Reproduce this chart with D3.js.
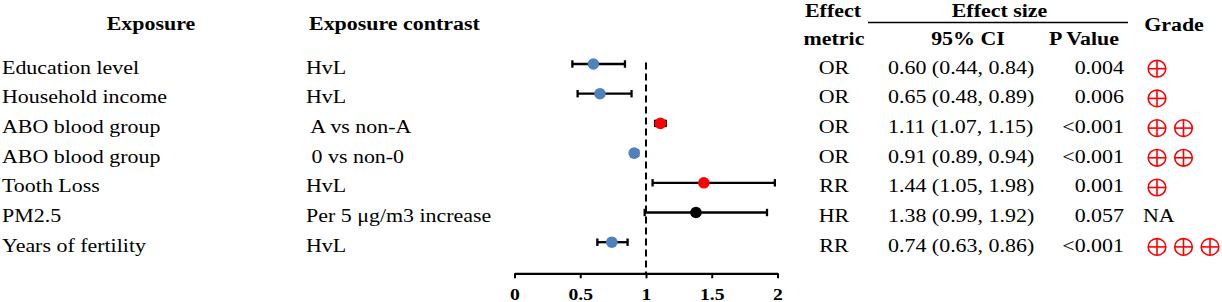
<!DOCTYPE html>
<html>
<head>
<meta charset="utf-8">
<script src="https://cdn.jsdelivr.net/npm/d3@7"></script>
<style>
  html, body { margin: 0; padding: 0; background: #fff; }
  svg { display: block; }
  text { font-family: "Liberation Serif", "Times New Roman", serif; fill: #000; white-space: pre; }
</style>
</head>
<body>
<svg id="chart" width="1222" height="302"></svg>
<script>
// ---- Data ----
const exposures = ["Education level", "Household income", "ABO blood group", "ABO blood group", "Tooth Loss", "PM2.5", "Years of fertility"];
const contrasts = ["HvL", "HvL", " A vs non-A", " 0 vs non-0", "HvL", "Per 5 \u03bcg/m3 increase", "HvL"];
const metrics = ["OR", "OR", "OR", "OR", "RR", "HR", "RR"];
const estimates = [0.60, 0.65, 1.11, 0.91, 1.44, 1.38, 0.74];
const lowerCI = [0.44, 0.48, 1.07, 0.89, 1.05, 0.99, 0.63];
const upperCI = [0.84, 0.89, 1.15, 0.94, 1.98, 1.92, 0.86];
const pValues = ["0.004", "0.006", "<0.001", "<0.001", "0.001", "0.057", "<0.001"];
const grades = [1, 1, 2, 2, 1, null, 3];
const pointGroups = ["lower", "lower", "higher", "lower", "higher", "ns", "lower"];
const axisTicks = [0, 0.5, 1, 1.5, 2];

// ---- Styles ----
const colorMap = { lower: "#4F81BD", higher: "#FF0000", ns: "#000000" };
const SX = 1.125;   // horizontal stretch of text in the reference
const FS = 19.5;

const svg = d3.select("#chart");
const rowIdx = d3.range(exposures.length);

const x = d3.scaleLinear().domain([0, 2]).range([514.5, 777.5]);
const y = d3.scalePoint().domain(rowIdx).range([64, 242.2]);
const baseline = i => y(i) + 9.5;

function txt(str, tx, ty, opts = {}) {
  return svg.append("text")
    .attr("transform", `translate(${tx},${ty}) scale(${SX},1)`)
    .attr("text-anchor", opts.anchor || "start")
    .style("font-size", (opts.size || FS) + "px")
    .style("font-weight", opts.bold ? "bold" : "normal")
    .text(str);
}

// ---- Headers ----
txt("Exposure", 151, 30, { anchor: "middle", bold: true });
txt("Exposure contrast", 309, 30, { bold: true });
txt("Effect", 833, 16.7, { anchor: "middle", bold: true });
txt("metric", 834, 45, { anchor: "middle", bold: true });
txt("Effect size", 999.5, 16.7, { anchor: "middle", bold: true });
svg.append("line").attr("x1", 868).attr("x2", 1128).attr("y1", 22.5).attr("y2", 22.5)
  .attr("stroke", "#000").attr("stroke-width", 1.5);
txt("95% CI", 968, 45, { anchor: "middle", bold: true });
txt("P Value", 1084, 45, { anchor: "middle", bold: true });
txt("Grade", 1174, 30.5, { anchor: "middle", bold: true });

// ---- Table columns ----
rowIdx.forEach(i => {
  txt(exposures[i], 2, baseline(i));
  txt(contrasts[i], 306, baseline(i));
  txt(metrics[i], 834, baseline(i), { anchor: "middle" });
  const ci = `${estimates[i].toFixed(2)} (${lowerCI[i].toFixed(2)}, ${upperCI[i].toFixed(2)})`;
  txt(ci, 888, baseline(i));
  txt(pValues[i], 1124, baseline(i), { anchor: "end" });
  if (grades[i] === null) {
    txt("NA", 1143, baseline(i));
  }
});

// ---- Grade symbols ----
const gradeData = [];
rowIdx.forEach(i => {
  if (grades[i]) d3.range(grades[i]).forEach(k => gradeData.push({ row: i, k }));
});
const gx = d => 1157 + d.k * 26.5;
const gy = d => baseline(d.row) - 4.8;
const gg = svg.append("g").attr("stroke", "#FF0000").attr("stroke-width", 1.6).attr("fill", "none");
gg.selectAll("ellipse").data(gradeData).join("ellipse")
  .attr("cx", gx).attr("cy", gy).attr("rx", 8.8).attr("ry", 8.3);
gg.selectAll("line.h").data(gradeData).join("line").attr("class", "h")
  .attr("x1", d => gx(d) - 8.8).attr("x2", d => gx(d) + 8.8).attr("y1", gy).attr("y2", gy);
gg.selectAll("line.v").data(gradeData).join("line").attr("class", "v")
  .attr("x1", gx).attr("x2", gx).attr("y1", d => gy(d) - 8.3).attr("y2", d => gy(d) + 8.3);

// ---- Forest plot ----
const axisY = 273.3;
svg.append("line")
  .attr("x1", x(1)).attr("x2", x(1)).attr("y1", 62.5).attr("y2", axisY)
  .attr("stroke", "#000").attr("stroke-width", 2).attr("stroke-dasharray", "7,4");

const eb = svg.append("g").attr("stroke", "#000").attr("stroke-width", 2.3);
eb.selectAll("line.ci").data(rowIdx).join("line").attr("class", "ci")
  .attr("x1", i => x(lowerCI[i])).attr("x2", i => x(upperCI[i]))
  .attr("y1", i => y(i)).attr("y2", i => y(i));
eb.selectAll("line.lo").data(rowIdx).join("line").attr("class", "lo")
  .attr("x1", i => x(lowerCI[i])).attr("x2", i => x(lowerCI[i]))
  .attr("y1", i => y(i) - 3.7).attr("y2", i => y(i) + 3.7);
eb.selectAll("line.hi").data(rowIdx).join("line").attr("class", "hi")
  .attr("x1", i => x(upperCI[i])).attr("x2", i => x(upperCI[i]))
  .attr("y1", i => y(i) - 3.7).attr("y2", i => y(i) + 3.7);

svg.append("g").selectAll("circle").data(rowIdx).join("circle")
  .attr("cx", i => x(estimates[i])).attr("cy", i => y(i)).attr("r", 5.8)
  .attr("fill", i => colorMap[pointGroups[i]]);

// ---- Axis ----
const axis = d3.axisBottom(x).tickValues(axisTicks).tickFormat(d3.format("")).tickSizeInner(5).tickSizeOuter(0).tickPadding(9);
const ag = svg.append("g").attr("transform", `translate(0,${axisY})`).call(axis);
ag.select(".domain").attr("stroke", "#000").attr("stroke-width", 2.2);
ag.selectAll(".tick line").attr("stroke", "#000").attr("stroke-width", 2);
ag.selectAll(".tick text")
  .attr("fill", "#000")
  .attr("transform", `scale(${SX},1)`)
  .style("font-family", "\"Liberation Serif\", \"Times New Roman\", serif")
  .style("font-size", "17.5px")
  .style("font-weight", "bold");
</script>
</body>
</html>
